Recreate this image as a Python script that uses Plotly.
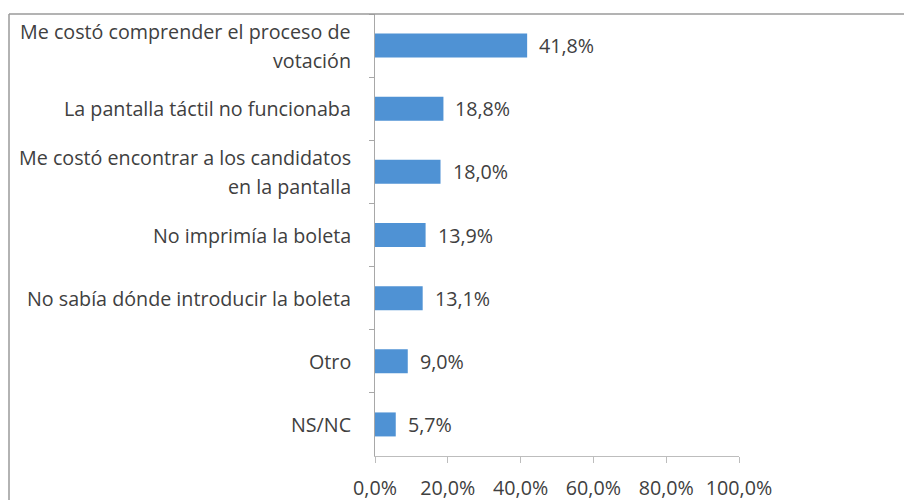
import plotly.graph_objects as go

categories = [
    "Me costó comprender el proceso de\nvotación",
    "La pantalla táctil no funcionaba",
    "Me costó encontrar a los candidatos\nen la pantalla",
    "No imprimía la boleta",
    "No sabía dónde introducir la boleta",
    "Otro",
    "NS/NC",
]
values = [41.8, 18.8, 18.0, 13.9, 13.1, 9.0, 5.7]
x_ticks = [0, 20, 40, 60, 80, 100]
x_tick_labels = ["0,0%", "20,0%", "40,0%", "60,0%", "80,0%", "100,0%"]

FONT = "Open Sans"
FS = 19.7
TXT = "#404040"
BAR = "#4f92d4"

def pct(v):
    return f"{v:.1f}".replace(".", ",") + "%"

fig = go.Figure(go.Bar(
    x=values, y=categories, orientation="h",
    marker=dict(color=BAR, line=dict(width=0)),
    width=0.38, hoverinfo="skip",
))

annotations = []
for cat, v in zip(categories, values):
    lines = cat.split("\n")
    n = len(lines)
    for i, ln in enumerate(lines):
        shift = ((n - 1) / 2 - i) * 29
        annotations.append(dict(
            x=0, xref="paper", y=cat, yref="y", text=ln, showarrow=False,
            xanchor="right", yanchor="middle", xshift=-22, yshift=shift,
            font=dict(family=FONT, size=FS, color=TXT), align="center",
        ))
    annotations.append(dict(
        x=v, xref="x", y=cat, yref="y", text=pct(v), showarrow=False,
        xanchor="left", yanchor="middle", xshift=10,
        font=dict(family=FONT, size=FS, color=TXT),
    ))

# page body has an 8px margin, so the figure is 8px smaller and offset
fig.update_layout(
    width=904, height=492,
    margin=dict(l=367, r=173, t=6, b=44, autoexpand=False),
    paper_bgcolor="white", plot_bgcolor="white",
    showlegend=False,
    font=dict(family=FONT, size=FS, color=TXT),
    xaxis=dict(
        range=[0, 100], tickvals=x_ticks, ticktext=x_tick_labels,
        showgrid=False, zeroline=False,
        showline=True, linecolor="#bdbdbd", linewidth=1,
        ticks="outside", ticklen=6, tickcolor="#bdbdbd",
        tickfont=dict(family=FONT, size=FS, color=TXT),
        ticklabelstandoff=8, automargin=False,
        fixedrange=True,
    ),
    yaxis=dict(
        type="category", autorange="reversed", automargin=False,
        showticklabels=False, showgrid=False, zeroline=False,
        showline=True, linecolor="#a8a8a8", linewidth=1,
        ticks="outside", ticklen=5, tickcolor="#a8a8a8", tickson="boundaries",
        fixedrange=True,
    ),
    annotations=annotations,
    shapes=[
        dict(type="line", xref="paper", yref="paper",
             x0=(1 - 367) / 364, x1=1.6, y0=1, y1=1,
             line=dict(color="#9a9a9a", width=1.5)),
        dict(type="line", xref="paper", yref="paper",
             x0=(1 - 367) / 364, x1=(1 - 367) / 364, y0=-0.2, y1=1,
             line=dict(color="#9a9a9a", width=1.5)),
    ],
)

fig.write_html("out.html")
